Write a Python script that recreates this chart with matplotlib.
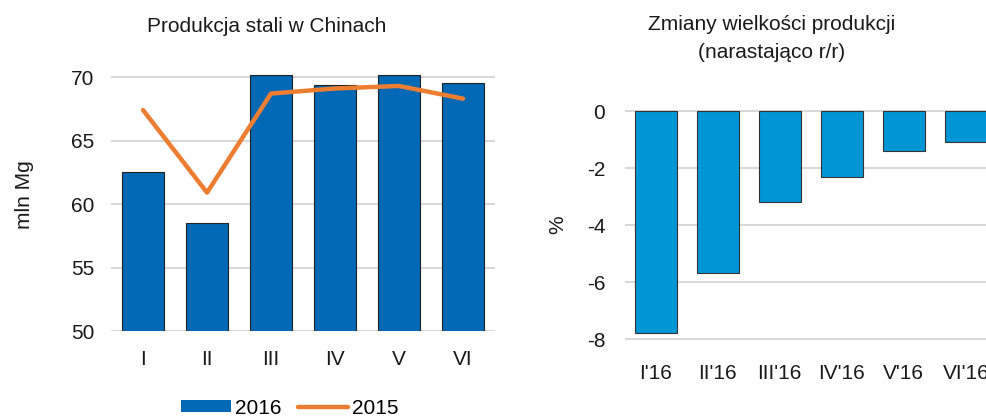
import numpy as np
import matplotlib
matplotlib.use("Agg")
import matplotlib.pyplot as plt
from matplotlib.patches import Patch
from matplotlib.lines import Line2D

plt.rcParams['font.family'] = ['Liberation Sans', 'DejaVu Sans']

# dane
months = ["I", "II", "III", "IV", "V", "VI"]
prod_2016 = [62.5, 58.5, 70.2, 69.4, 70.2, 69.5]
prod_2015 = [67.4, 60.9, 68.7, 69.1, 69.3, 68.3]

months_yy = ["I'16", "II'16", "III'16", "IV'16", "V'16", "VI'16"]
change_cum = [-7.8, -5.7, -3.2, -2.3, -1.4, -1.1]

dark_blue = "#0068B4"
orange = "#ED7D31"
light_blue = "#0096D6"
grid_col = "#D9D9D9"
fs = 15

fig = plt.figure(figsize=(9.87, 4.16), dpi=100)

# lewy wykres
ax1 = fig.add_axes([0.1125, 0.2043, 0.389, 0.641])
x = np.arange(len(months))
ax1.bar(x, prod_2016, width=0.66, color=dark_blue, edgecolor="#222222", linewidth=0.8, zorder=2)
ax1.plot(x, prod_2015, color=orange, linewidth=3.2, solid_capstyle="round", zorder=3)
ax1.set_xlim(-0.5, 5.5)
ax1.set_ylim(50, 71)
ax1.set_yticks([50, 55, 60, 65, 70])
ax1.set_xticks(x)
ax1.set_xticklabels(months)
ax1.yaxis.grid(True, color=grid_col, linewidth=1.5, zorder=0)
ax1.set_axisbelow(True)
for s in ax1.spines.values():
    s.set_visible(False)
ax1.tick_params(length=0, labelsize=fs, colors="#1a1a1a")
ax1.tick_params(axis="x", pad=14)
ax1.tick_params(axis="y", pad=12)
fig.text(267 / 987, 1 - 27 / 416, "Produkcja stali w Chinach", ha="center", va="center", fontsize=fs, color="#1a1a1a")
fig.text(25 / 987, 1 - 195 / 416, "mln Mg", rotation=90, ha="center", va="center", fontsize=fs, color="#1a1a1a")

handles = [Patch(facecolor=dark_blue, edgecolor="none"),
           Line2D([0], [0], color=orange, linewidth=3.2, solid_capstyle="round")]
fig.legend(handles, ["2016", "2015"], loc="center", bbox_to_anchor=(290 / 987, 8 / 416),
           ncol=2, frameon=False, fontsize=fs, handlelength=2.4, handleheight=0.55,
           handletextpad=0.2, columnspacing=0.8)

# prawy wykres
ax2 = fig.add_axes([0.633, 0.1782, 0.377, 0.5618])
x2 = np.arange(len(months_yy))
ax2.bar(x2, change_cum, width=0.68, color=light_blue, edgecolor="#333333", linewidth=0.8, zorder=2)
ax2.set_xlim(-0.5, 5.5)
ax2.set_ylim(-8.1, 0.1)
ax2.set_yticks([-8, -6, -4, -2, 0])
ax2.set_yticklabels(["-8", "-6", "-4", "-2", "0"])
ax2.set_xticks(x2)
ax2.set_xticklabels(months_yy)
ax2.yaxis.grid(True, color=grid_col, linewidth=1.5, zorder=0)
ax2.set_axisbelow(True)
for s in ax2.spines.values():
    s.set_visible(False)
ax2.tick_params(length=0, labelsize=fs, colors="#1a1a1a")
ax2.tick_params(axis="x", pad=16)
ax2.tick_params(axis="y", pad=14)
fig.text(772 / 987, 1 - 25 / 416, "Zmiany wielkości produkcji", ha="center", va="center", fontsize=fs, color="#1a1a1a")
fig.text(772 / 987, 1 - 53 / 416, "(narastająco r/r)", ha="center", va="center", fontsize=fs, color="#1a1a1a")
fig.text(558 / 987, 1 - 225 / 416, "%", rotation=90, ha="center", va="center", fontsize=fs, color="#1a1a1a")

fig.savefig("out.png", dpi=100)
